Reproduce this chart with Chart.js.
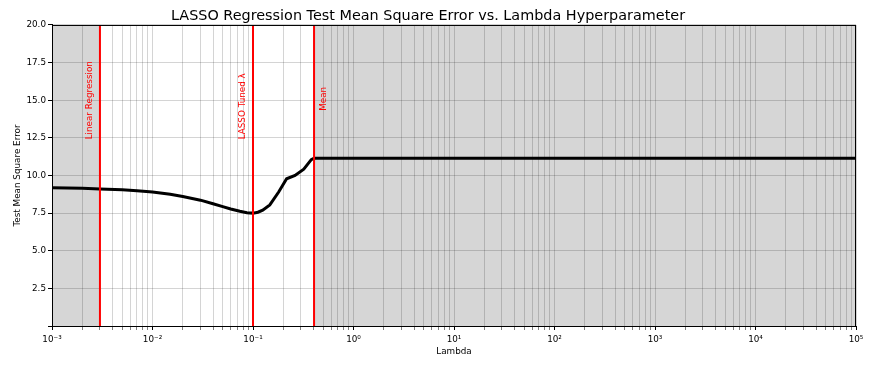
<!DOCTYPE html>
<html>
<head>
<meta charset="utf-8">
<script src="https://cdn.jsdelivr.net/npm/chart.js@4.4.1/dist/chart.umd.min.js"></script>
<style>
  html, body { margin: 0; padding: 0; background: #fff; }
  #wrap { width: 890px; height: 370px; }
</style>
</head>
<body>
<div id="wrap"><canvas id="mseChart"></canvas></div>
<script>
// values
const lambdas = [0.001, 0.002, 0.003, 0.005, 0.007, 0.01, 0.015, 0.02, 0.03, 0.04, 0.05, 0.06,
  0.074, 0.087, 0.1, 0.112, 0.125, 0.147, 0.18, 0.216, 0.262, 0.32, 0.38, 0.405,
  1, 10, 100, 1000, 10000, 100000];
const mse = [9.18, 9.15, 9.11, 9.05, 8.99, 8.91, 8.76, 8.60, 8.36, 8.12, 7.93, 7.77,
  7.62, 7.53, 7.50, 7.56, 7.70, 8.05, 8.90, 9.78, 10.0, 10.42, 11.05, 11.15,
  11.15, 11.15, 11.15, 11.15, 11.15, 11.15];

const markerNames = ['Linear Regression', 'LASSO Tuned \u03bb', 'Mean'];
const markerLambdas = [0.003, 0.1, 0.405];
const markerTextY = [12.4, 12.4, 14.3];
const markerSide = [-1, -1, 1];

const xDecades = [-3, -2, -1, 0, 1, 2, 3, 4, 5];
const yTicks = [0, 2.5, 5, 7.5, 10, 12.5, 15, 17.5, 20];

const sup = { '-': '\u207b', '0': '\u2070', '1': '\u00b9', '2': '\u00b2', '3': '\u00b3',
  '4': '\u2074', '5': '\u2075', '6': '\u2076', '7': '\u2077', '8': '\u2078', '9': '\u2079' };
const powLabel = e => '10' + String(e).split('').map(c => sup[c]).join('');

const FONT = 'DejaVu Sans';
const SMALL = 8.8;

// gray bands: left of linear regression, right of mean
const bands = {
  id: 'bands',
  beforeDraw(chart) {
    const { ctx, chartArea: a, scales: { x } } = chart;
    ctx.save();
    ctx.fillStyle = '#d6d6d6';
    const x1 = x.getPixelForValue(markerLambdas[0]);
    ctx.fillRect(a.left, a.top, x1 - a.left, a.bottom - a.top);
    const x2 = x.getPixelForValue(markerLambdas[2]);
    ctx.fillRect(x2, a.top, a.right - x2, a.bottom - a.top);
    ctx.restore();
  },
  afterDatasetsDraw(chart) {
    const { ctx, chartArea: a, scales: { x, y } } = chart;
    ctx.save();
    ctx.fillStyle = '#ff0000';
    ctx.font = SMALL + 'px "' + FONT + '"';
    ctx.textAlign = 'left';
    ctx.textBaseline = 'middle';
    markerNames.forEach((name, i) => {
      const px = x.getPixelForValue(markerLambdas[i]) + markerSide[i] * 10;
      const py = y.getPixelForValue(markerTextY[i]);
      ctx.save();
      ctx.translate(px, py);
      ctx.rotate(-Math.PI / 2);
      ctx.fillText(name, 0, 0);
      ctx.restore();
    });
    ctx.strokeStyle = '#000';
    ctx.lineWidth = 1;
    ctx.strokeRect(a.left + 0.5, a.top + 0.5, a.right - a.left - 1, a.bottom - a.top);
    ctx.restore();
  }
};

const datasets = markerLambdas.map(l => ({
  data: [{ x: l, y: 0 }, { x: l, y: 20 }],
  borderColor: '#ff0000',
  borderWidth: 2,
  pointRadius: 0
}));
datasets.push({
  data: lambdas.map((l, i) => ({ x: l, y: mse[i] })),
  borderColor: '#000',
  borderWidth: 3,
  pointRadius: 0,
  tension: 0
});

new Chart(document.getElementById('mseChart'), {
  type: 'line',
  data: { datasets },
  plugins: [bands],
  options: {
    responsive: true,
    maintainAspectRatio: false,
    animation: false,
    layout: { padding: { left: 0, right: 34, top: 0, bottom: 0 } },
    plugins: {
      legend: { display: false },
      tooltip: { enabled: false },
      title: {
        display: true,
        text: 'LASSO Regression Test Mean Square Error vs. Lambda Hyperparameter',
        color: '#000',
        font: { family: FONT, size: 14.4, weight: 'normal' },
        padding: { top: 7.4, bottom: 0.3 }
      }
    },
    scales: {
      x: {
        type: 'logarithmic',
        min: 1e-3,
        max: 1e5,
        afterBuildTicks(scale) {
          const t = [];
          xDecades.forEach(e => {
            for (let m = 1; m <= 9; m++) {
              if (e === 5 && m > 1) break;
              t.push({ value: m * Math.pow(10, e), major: m === 1 });
            }
          });
          scale.ticks = t;
        },
        afterFit(scale) { scale.height = 44; },
        ticks: {
          autoSkip: false,
          maxRotation: 0,
          color: '#000',
          padding: 4,
          font: { family: FONT, size: SMALL },
          callback(v) {
            const e = Math.log10(v);
            return Math.abs(e - Math.round(e)) < 1e-9 ? powLabel(Math.round(e)) : '';
          }
        },
        grid: {
          color: 'rgba(0,0,0,0.17)',
          lineWidth: 1,
          tickLength: 4,
          tickColor: c => (c.tick && c.tick.major) ? '#000' : 'rgba(0,0,0,0.5)'
        },
        border: { color: '#000', width: 1 },
        title: {
          display: true,
          text: 'Lambda',
          color: '#000',
          font: { family: FONT, size: SMALL },
          padding: { top: 0, bottom: 12.7 }
        }
      },
      y: {
        min: 0,
        max: 20,
        afterBuildTicks(scale) { scale.ticks = yTicks.map(v => ({ value: v })); },
        afterFit(scale) { scale.width = 52; },
        ticks: {
          color: '#000',
          padding: 2,
          font: { family: FONT, size: SMALL },
          callback: v => v === 0 ? '' : v.toFixed(1)
        },
        grid: {
          color: 'rgba(0,0,0,0.17)',
          lineWidth: 1,
          tickLength: 4,
          tickColor: '#000'
        },
        border: { color: '#000', width: 1 },
        title: {
          display: true,
          text: 'Test Mean Square Error',
          color: '#000',
          font: { family: FONT, size: SMALL },
          padding: { top: 12.7, bottom: 0 }
        }
      }
    }
  }
});
</script>
</body>
</html>
